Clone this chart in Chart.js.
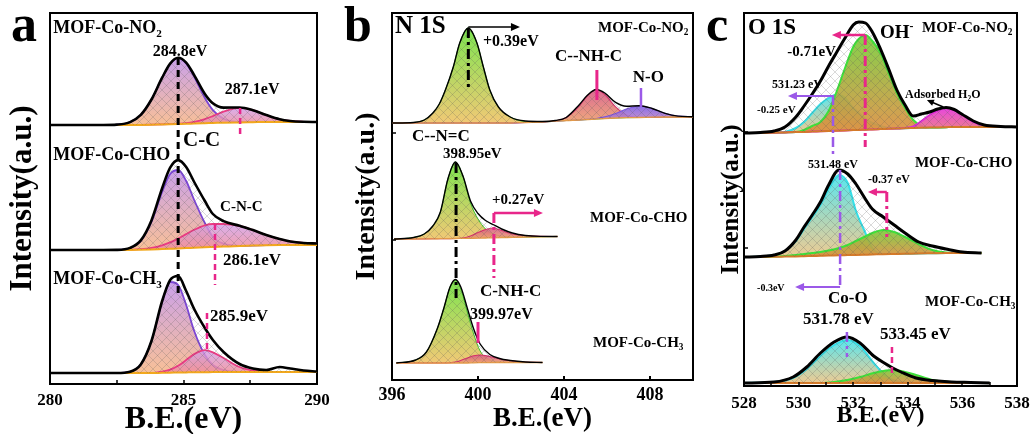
<!DOCTYPE html>
<html><head><meta charset="utf-8">
<script src="https://cdn.jsdelivr.net/npm/chart.js@4.4.1/dist/chart.umd.min.js"></script>
<style>
html,body{margin:0;padding:0;background:#fff;width:1030px;height:434px;overflow:hidden}
canvas{position:absolute;top:0}
</style></head><body>
<canvas id="ca" width="340" height="434" style="left:0px"></canvas>
<canvas id="cb" width="360" height="434" style="left:340px"></canvas>
<canvas id="cc" width="330" height="434" style="left:700px"></canvas>
<script>
// ---------------- DATA ----------------
// Panel a : C 1s
const aTicks = [280, 285, 290];
const aMinor = [282.5, 285, 287.5];
const aX = [280, 281, 282, 282.5, 283, 283.4, 283.8, 284.2, 284.5, 284.8, 285.1, 285.4, 285.8, 286.1, 286.5, 287.1, 287.6, 288.1, 288.6, 289, 289.5, 290];
const aOffset = [259, 134, 11]; // NO2, CHO, CH3 stacking offsets (a.u.)
const aNO2Bg  = [0,0,0,0,0,0.1,0.3,0.6,0.8,1,1.2,1.5,1.8,2,2.3,2.6,2.8,3,3,3,3,3];
const aNO2CC  = [0,0,0,0.4,2.9,10.1,25.5,47.3,61.3,67,61.7,48.2,27,14.9,6.3,3,2.8,3,3,3,3,3];
const aNO2CNC = [0,0,0,0,0,0.1,0.3,0.6,0.9,1.3,1.9,3.2,5.9,8.9,13.4,17.1,14.8,9.9,5.7,4,3.2,3];
const aNO2Env = [0,0,0,0.4,2.9,10.1,25.5,47.3,61.4,67.3,62.4,49.9,31.1,21.8,17.4,17.5,14.8,9.9,5.7,4,3.2,3];
const aCHOBg  = [0,0,0,0,0,0.2,0.5,0.9,1.2,1.5,1.9,2.2,2.7,3,3.4,4,4.4,4.8,5,5,5,5];
const aCHOCC  = [0,0,0,0.1,1.9,9,28,58,76,80,69,50,27,13,6.3,4.2,4.4,4.8,5,5,5,5];
const aCHOCNC = [0,0,0,0,0.2,0.8,2.1,4.7,7.6,11.4,15.9,20.2,24.7,26,26,24,20,15,11,8.5,7,6.5];
const aCHOEnv = [0,0,0,0.1,2.1,9.6,29.6,61.8,82.4,89.9,83,68,49,36,28.9,24.2,20,15,11,8.5,7,6.5];
const aCH3Bg  = [0,0,0,0,0,0,0,0.2,0.3,0.5,0.6,0.7,0.8,0.9,1,1,1,1,1,1,1,1];
const aCH3CC  = [0,0,0,0,1.3,8.5,32,71,91,88,68,42,18,8,3,1.2,1,1,1,1,1,1];
const aCH3CNC = [0,0,0,0,0,0,0,1.3,3.3,7.2,12.9,18.9,22.8,20.7,15,6,2.5,1.2,1,1,1,1];
const aCH3Env = [0,0,0,0,1.3,8.5,32,72,93,97,82,64,45,33,21,9,4.5,3,6,4.5,2.5,1.5];

// Panel b : N 1s
const bTicks = [396, 400, 404, 408];
const bMinor = [400, 404, 408];
const bOffset = [257, 141, 17];
const bNO2X   = [396, 397, 397.5, 397.9, 398.2, 398.5, 398.85, 399.15, 399.55, 399.95, 400.25, 400.55, 400.95, 401.5, 402.2, 403, 403.6, 404.1, 404.7, 405.1, 405.5, 405.9, 406.4, 406.9, 407.5, 408.1, 408.7, 409.3, 410];
const bNO2Bg  = [0,0,0,0,0,0,0,0,0,0,0,0,0,0,0.5,1,1.8,2.5,3,3.5,4,4.5,5,5.3,5.5,5.8,6,6,6];
const bNO2CNC = [0,0.5,3,10,19,34,56,80,95,80,56,33,16,6,1.5,1,1.8,2.5,3,3.5,4,4.5,5,5.3,5.5,5.8,6,6,6];
const bNO2NH  = [0,0,0,0,0,0,0,0,0,0,0,0,0,0,0.5,1,2.2,5.3,16.6,27.5,33,28.5,16.1,8.1,5.8,5.8,6,6,6];
const bNO2NO  = [0,0,0,0,0,0,0,0,0,0,0,0,0,0,0.5,1,1.8,2.5,3,3.6,4.5,6.1,9.5,14,17,14.5,9.7,6.9,6.2];
const bNO2Env = [0,0.5,3,10,19,34,56,80,95,80,56,33,16,6,2,1.5,2.5,5.5,18,28,33.5,30,20.6,16.8,17.3,14.5,9.7,6.9,6.2];
const bCHOX   = [396.1, 397, 397.5, 397.9, 398.25, 398.6, 398.95, 399.3, 399.65, 400, 400.35, 400.7, 401.1, 401.6, 402.2, 402.9, 403.7];
const bCHOBg  = [0,0,0.1,0.2,0.3,0.4,0.5,0.6,0.7,0.8,1,1.2,1.4,1.6,1.9,2.2,2.5];
const bCHOCNC = [0,1.5,5,13,27,60,77,63,36,20,10,5,3,2,1.9,2.2,2.5];
const bCHONH  = [0,0,0.1,0.2,0.3,0.4,0.5,1,3,6.5,9.5,11,8.5,5,3.5,2.6,2.5];
const bCHOEnv = [0,1.5,5,13,27,60,77,63,38,25.5,18.5,14.5,10,6,3.5,2.6,2.5];
const bCH3X   = [396.2, 397.1, 397.6, 398.1, 398.4, 398.7, 398.95, 399.2, 399.5, 399.8, 400.1, 400.55, 401, 401.5, 402.2, 403];
const bCH3Bg  = [0,0,0,0,0,0,0,0,0,0.2,0.3,0.4,0.5,0.5,0.5,0.5];
const bCH3CNC = [0,3,11,34,54,76,83,74,51,29,12,3,1,0.5,0.5,0.5];
const bCH3NH  = [0,0,0,0,0,0.3,1,2.5,5,7.2,8,6.5,4,2.2,1,0.5];
const bCH3Env = [0,3,11,34,54,76,83.5,76,55,34,19,8.5,4.5,2.5,1,0.5];

// Panel c : O 1s
const cTicks = [528, 530, 532, 534, 536, 538];
const cMinor = [529, 530, 531, 532, 533, 534, 535, 536, 537];
const cOffset = [253, 129, 3];
const cNO2X   = [528, 528.6, 529.1, 529.5, 529.9, 530.2, 530.5, 530.8, 531.1, 531.4, 531.7, 532, 532.2, 532.45, 532.7, 533, 533.3, 533.6, 533.9, 534.2, 534.5, 534.8, 535.1, 535.4, 535.7, 536, 536.4, 536.8, 537.4, 538];
const cNO2Bg  = [0,0,0.3,0.6,0.9,1.1,1.4,1.7,2,2.3,2.6,2.9,3.1,3.3,3.6,3.9,4.2,4.5,4.8,5,5.2,5.4,5.6,5.8,6,6,6,6,6,6];
const cNO2CoO = [0,0,0.3,1,5,11,20,29,35,38.5,35,25,20,14,10,7,5,4.5,4.8,5,5.2,5.4,5.6,5.8,6,6,6,6,6,6];
const cNO2OH  = [0,0,0.3,0.6,0.9,3,7,11,22,42,65,86,94,98,92,80,60,40,25,13,7,5.4,5.6,5.8,6,6,6,6,6,6];
const cNO2H2O = [0,0,0.3,0.6,0.9,1.1,1.4,1.7,2,2.3,2.6,2.9,3.1,3.3,3.6,3.9,4.2,4.5,5,6.5,12,18,22.5,25,23,18,11,7.5,6,6];
const cNO2Env = [0,0.5,2,6,16,27,39,52,67,81,95,108,111,110,101,84,64,43,28,17,19,21,24,25.5,23.5,18.5,12,8,6.5,6];
const cCHOX   = [528, 528.6, 529.1, 529.5, 529.9, 530.2, 530.5, 530.8, 531.1, 531.48, 531.8, 532.1, 532.4, 532.7, 533.1, 533.5, 533.9, 534.4, 534.9, 535.4, 536, 536.7];
const cCHOBg  = [0,0,0.2,0.4,0.6,0.8,1,1.2,1.4,1.7,1.9,2.1,2.3,2.5,2.8,3,3.2,3.5,3.7,3.9,4,4];
const cCHOCoO = [0,0.5,2,6,16,28,40,52,68,82,74,46,27,9,3,3,3.2,3.5,3.7,3.9,4,4];
const cCHOOH  = [0,0,0.5,1,2,3,4,5,6.5,9,12,16,20,24,27,25,20,13,7,4.5,4,4];
const cCHOEnv = [0,0.5,2,6,17,30,42,55,72,87,83,73,60,48,40,32,24,15,11,8,5,4];
const cCH3X   = [528, 529.1, 529.8, 530.3, 530.8, 531.3, 531.78, 532.25, 532.75, 533.2, 533.45, 533.75, 534.3, 534.9, 535.6, 536.3, 537];
const cCH3Bg  = [0,0,0,0,0,0,0,0,0,0,0,0,0,0,0,0,0];
const cCH3CoO = [0,1,5,14,27,38,43,37,20,7,3,1,0,0,0,0,0];
const cCH3OH  = [0,0,0,0,0,1,3,6,10,12.5,13,12,8,3,1,0,0];
const cCH3Env = [0,1,6,16,30,41,46,40,27,19,15,11,5,2.5,1,0.5,0];

// ---------------- HELPERS ----------------
const FONT = '"Liberation Serif", "Times New Roman", serif';
const PINK = '#e8268a', VIOLET = '#9b59e8';
const patCanvas = document.createElement('canvas');
patCanvas.width = 9; patCanvas.height = 9;
(function(){const g = patCanvas.getContext('2d'); g.strokeStyle = 'rgba(90,90,90,0.32)'; g.lineWidth = 0.7;
 g.beginPath(); g.moveTo(0,9); g.lineTo(9,0); g.moveTo(0,0); g.lineTo(9,9); g.stroke();})();

function hatch(chart){ if(!chart.$hatch) chart.$hatch = chart.ctx.createPattern(patCanvas,'repeat'); return chart.$hatch; }
function grad(chart, topV, baseV, cTop, cBot){
  if(!chart.chartArea || !chart.scales.y) return cBot;
  const y = chart.scales.y;
  const g = chart.ctx.createLinearGradient(0, y.getPixelForValue(topV), 0, y.getPixelForValue(baseV));
  g.addColorStop(0, cTop); g.addColorStop(1, cBot); return g;
}
function buildDatasets(specs){
  const ds = [];
  specs.forEach(sp => {
    const pts = arr => sp.x.map((v,i) => ({x:v, y: sp.off + arr[i]}));
    const bgIdx = ds.length + sp.comps.length;
    sp.comps.forEach(cp => {
      const topV = sp.off + Math.max(...cp.y);
      ds.push({data: pts(cp.y), borderColor: cp.line, borderWidth: cp.lw, fill: bgIdx,
        backgroundColor: ctx => grad(ctx.chart, topV, sp.off, cp.top, cp.bot)});
    });
    ds.push({data: pts(sp.bg), borderColor: sp.bgC, borderWidth: sp.bgW, fill: false});
    ds.push({data: pts(sp.env), borderColor: '#000', borderWidth: sp.envW, fill: bgIdx,
      backgroundColor: ctx => hatch(ctx.chart)});
  });
  ds.forEach((d,i) => { d.order = -i; d.pointRadius = 0; d.cubicInterpolationMode = 'monotone'; });
  return ds;
}
function drawParts(c, parts, x, y, size, align, color){
  const fn = s => 'bold ' + s + 'px ' + FONT;
  let total = 0;
  const ws = parts.map(([t,m]) => { c.font = fn(m ? size*0.62 : size); const w = c.measureText(t).width; total += w; return w; });
  let cx = align === 'center' ? x - total/2 : x;
  c.textBaseline = 'middle'; c.textAlign = 'left'; c.fillStyle = color || '#000';
  parts.forEach(([t,m],i) => { c.font = fn(m ? size*0.62 : size);
    const dy = m === 'sub' ? size*0.32 : (m === 'sup' ? -size*0.33 : 0);
    c.fillText(t, cx, y + dy); cx += ws[i]; });
}
function annotPlugin(items, letter){
  return { id: 'annot',
    afterDatasetsDraw(chart){
      const c = chart.ctx, ca = chart.chartArea, X = v => chart.scales.x.getPixelForValue(v), Y = v => chart.scales.y.getPixelForValue(v);
      c.save();
      items.forEach(it => {
        if (it.t) { drawParts(c, it.t, X(it.x), Y(it.y), it.s, it.al, it.c); return; }
        c.strokeStyle = it.c || '#000'; c.fillStyle = it.c || '#000'; c.lineWidth = it.w || 2;
        c.setLineDash(it.d || []); c.lineCap = 'butt';
        if (it.tk) { c.beginPath(); it.tk.forEach(v => { const px = Math.round(X(v)); c.moveTo(px, ca.bottom); c.lineTo(px, ca.bottom - it.len); }); c.stroke(); }
        if (it.ty) { c.beginPath(); it.ty.forEach(v => { const py = Math.round(Y(v)); c.moveTo(ca.left, py); c.lineTo(ca.left + it.len, py); }); c.stroke(); }
        if (it.l) { const px = X(it.l[0]); c.beginPath(); c.moveTo(px, Y(it.l[1])); c.lineTo(px, Y(it.l[2])); c.stroke(); }
        if (it.a) { const x1 = X(it.a[0]), y1 = Y(it.a[1]), x2 = X(it.a[2]), y2 = Y(it.a[3]);
          const ang = Math.atan2(y2-y1, x2-x1), L = it.h || 9, W = (it.h || 9)*0.45;
          c.beginPath(); c.moveTo(x1,y1); c.lineTo(x2 - Math.cos(ang)*L*0.8, y2 - Math.sin(ang)*L*0.8); c.stroke();
          c.setLineDash([]);
          c.beginPath(); c.moveTo(x2,y2);
          c.lineTo(x2 - Math.cos(ang)*L + Math.sin(ang)*W, y2 - Math.sin(ang)*L - Math.cos(ang)*W);
          c.lineTo(x2 - Math.cos(ang)*L - Math.sin(ang)*W, y2 - Math.sin(ang)*L + Math.cos(ang)*W);
          c.closePath(); c.fill(); }
        c.setLineDash([]);
      });
      c.restore();
    },
    afterDraw(chart){
      const c = chart.ctx; c.save(); c.fillStyle = '#000'; c.font = 'bold ' + letter.s + 'px ' + FONT;
      c.textBaseline = 'alphabetic'; c.textAlign = 'left'; c.fillText(letter.t, letter.x, letter.y); c.restore();
    }
  };
}
function scalesCfg(p){
  const border = {display:true, color:'#000', width:2};
  return {
    x: {type:'linear', position:'bottom', min:p.min, max:p.max,
      afterBuildTicks: ax => { ax.ticks = p.ticks.map(v => ({value:v})); },
      ticks: {color:'#000', font:{family:FONT, weight:'bold', size:p.tickSize}, padding:p.tickPad, maxRotation:0, autoSkip:false},
      grid: {display:false, drawTicks:false}, border,
      title: {display:true, text:'B.E.(eV)', color:'#000', font:{family:FONT, weight:'bold', size:p.xtSize, lineHeight:1}, padding:{top:0, bottom:p.xtPad}},
      afterFit: s => { s.height = p.xh; s.paddingLeft = 0; s.paddingRight = 0; }},
    y: {type:'linear', position:'left', min:0, max:p.ymax, ticks:{display:false}, grid:{display:false, drawTicks:false}, border,
      title: {display:true, text:'Intensity(a.u.)', color:'#000', font:{family:FONT, weight:'bold', size:p.ytSize, lineHeight:1}, padding:{top:p.ytPad, bottom:0}},
      afterFit: s => { s.width = p.yw; s.paddingTop = 0; s.paddingBottom = 0; }},
    xT: {axis:'x', type:'linear', position:'top', min:p.min, max:p.max, ticks:{display:false}, grid:{display:false, drawTicks:false}, border,
      afterFit: s => { s.height = 0; s.paddingLeft = 0; s.paddingRight = 0; }},
    yR: {axis:'y', type:'linear', position:'right', min:0, max:p.ymax, ticks:{display:false}, grid:{display:false, drawTicks:false}, border,
      afterFit: s => { s.width = 0; s.paddingTop = 0; s.paddingBottom = 0; }}
  };
}
function makeChart(id, datasets, scales, padding, plugin){
  return new Chart(document.getElementById(id), {
    type:'line', data:{datasets},
    options:{responsive:false, animation:false, devicePixelRatio:1, events:[],
      layout:{padding}, plugins:{legend:{display:false}, tooltip:{enabled:false}}, scales},
    plugins:[plugin]
  });
}

// ---------------- PANEL A ----------------
const aStyle = {
  cc: {line:'#7b45d6', lw:1.8, top:'rgba(196,150,232,0.9)', bot:'rgba(247,185,140,0.9)'},
  cn: {line:'#ea3b83', lw:1.8, top:'rgba(208,155,232,0.8)', bot:'rgba(242,140,150,0.85)'}
};
const aSpecs = [
  {x:aX, off:aOffset[0], bg:aNO2Bg, env:aNO2Env, comps:[{y:aNO2CC,...aStyle.cc},{y:aNO2CNC,...aStyle.cn}]},
  {x:aX, off:aOffset[1], bg:aCHOBg, env:aCHOEnv, comps:[{y:aCHOCC,...aStyle.cc},{y:aCHOCNC,...aStyle.cn}]},
  {x:aX, off:aOffset[2], bg:aCH3Bg, env:aCH3Env, comps:[{y:aCH3CC,...aStyle.cc},{y:aCH3CNC,...aStyle.cn}]}
].map(s => Object.assign(s, {bgC:'#f2a81d', bgW:2, envW:2.6}));
const sub = (a,b) => [[a],[b,'sub']];
const aAnnot = [
  {tk:aMinor, len:4, w:1.5},
  {t:sub('MOF-Co-NO','2'), x:280.12, y:356, s:18},
  {t:[['284.8eV']], x:284.87, y:332, s:16, al:'center'},
  {t:[['287.1eV']], x:287.57, y:294, s:16, al:'center'},
  {t:[['C-C']], x:284.98, y:243, s:21},
  {t:[['MOF-Co-CHO']], x:280.12, y:229, s:18},
  {t:[['C-N-C']], x:286.37, y:177, s:15},
  {t:[['286.1eV']], x:286.48, y:123, s:17},
  {t:sub('MOF-Co-CH','3'), x:280.12, y:105, s:18},
  {t:[['285.9eV']], x:285.99, y:67, s:17},
  {l:[284.8, 326, 87], c:'#000', w:3, d:[7,5]},
  {l:[287.12, 276, 246], c:PINK, w:2.5, d:[6,4]},
  {l:[286.18, 160, 99], c:PINK, w:2.5, d:[6,4]},
  {l:[285.88, 71, 34], c:PINK, w:2.5, d:[6,4]}
];
makeChart('ca', buildDatasets(aSpecs),
  scalesCfg({min:280, max:290, ticks:aTicks, tickSize:17, tickPad:6, xtSize:32, xtPad:-2, xh:50, ymax:371, ytSize:31, ytPad:7, yw:50}),
  {top:13, right:23, left:0, bottom:0}, annotPlugin(aAnnot, {t:'a', s:52, x:11, y:41}));

// ---------------- PANEL B ----------------
const bStyle = {
  cnc: {line:'#3fbf2a', lw:1, top:'rgba(118,228,70,0.95)', bot:'rgba(240,198,110,0.95)'},
  nh:  {line:'#d4306a', lw:1.1, top:'rgba(215,90,135,0.9)', bot:'rgba(238,160,110,0.9)'},
  no:  {line:'#7b55e0', lw:1.1, top:'rgba(125,95,232,0.9)', bot:'rgba(205,140,190,0.9)'}
};
const bSpecs = [
  {x:bNO2X, off:bOffset[0], bg:bNO2Bg, env:bNO2Env, comps:[{y:bNO2CNC,...bStyle.cnc},{y:bNO2NH,...bStyle.nh},{y:bNO2NO,...bStyle.no}]},
  {x:bCHOX, off:bOffset[1], bg:bCHOBg, env:bCHOEnv, comps:[{y:bCHOCNC,...bStyle.cnc},{y:bCHONH,...bStyle.nh}]},
  {x:bCH3X, off:bOffset[2], bg:bCH3Bg, env:bCH3Env, comps:[{y:bCH3CNC,...bStyle.cnc},{y:bCH3NH,...bStyle.nh}]}
].map(s => Object.assign(s, {bgC:'#e39a4a', bgW:1.3, envW:1.4}));
const DD = [10,4,3,4];
const bAnnot = [
  {tk:bMinor, len:4, w:2},
  {ty:[247, 140], len:4, w:1.5},
  {t:[['N 1S']], x:396.14, y:353, s:25},
  {t:[['+0.39eV']], x:400.23, y:338, s:16},
  {t:sub('MOF-Co-NO','2'), x:405.58, y:352, s:15},
  {t:[['C--NH-C']], x:403.58, y:323, s:17},
  {t:[['N-O']], x:407.2, y:302, s:17},
  {t:[['C--N=C']], x:396.93, y:243, s:17},
  {t:[['398.95eV']], x:398.37, y:226, s:15},
  {t:[['+0.27eV']], x:400.65, y:180, s:15},
  {t:[['MOF-Co-CHO']], x:405.21, y:162, s:15},
  {t:[['C-NH-C']], x:400.09, y:88, s:17},
  {t:[['399.97eV']], x:399.63, y:65, s:16},
  {t:sub('MOF-Co-CH','3'), x:405.35, y:37, s:15},
  {a:[399.55, 353, 401.95, 353], c:'#000', w:1.5},
  {l:[399.55, 352, 290], c:'#000', w:3, d:DD},
  {l:[405.53, 310, 280], c:PINK, w:3},
  {l:[407.58, 292, 273], c:VIOLET, w:2.5},
  {l:[398.98, 217, 82], c:'#000', w:3, d:DD},
  {l:[400.74, 167, 102], c:PINK, w:3, d:DD},
  {a:[400.74, 167, 403.02, 167], c:PINK, w:2.5},
  {l:[400.0, 58, 37], c:PINK, w:3}
];
makeChart('cb', buildDatasets(bSpecs),
  scalesCfg({min:396, max:410, ticks:bTicks, tickSize:18, tickPad:5, xtSize:27, xtPad:1, xh:54, ymax:367, ytSize:28, ytPad:13, yw:52}),
  {top:13, right:7, left:0, bottom:0}, annotPlugin(bAnnot, {t:'b', s:50, x:4, y:41}));

// ---------------- PANEL C ----------------
const cStyle = {
  coo: {line:'#35dfe8', lw:2, top:'rgba(70,228,238,0.9)', bot:'rgba(232,190,120,0.8)'},
  oh:  {line:'#3ee03a', lw:2, top:'rgba(122,205,60,0.92)', bot:'rgba(222,140,62,0.9)'},
  h2o: {line:'#e02ad8', lw:2, top:'rgba(230,60,220,0.95)', bot:'rgba(236,120,120,0.9)'}
};
const cSpecs = [
  {x:cNO2X, off:cOffset[0], bg:cNO2Bg, env:cNO2Env, comps:[{y:cNO2CoO,...cStyle.coo},{y:cNO2OH,...cStyle.oh},{y:cNO2H2O,...cStyle.h2o}]},
  {x:cCHOX, off:cOffset[1], bg:cCHOBg, env:cCHOEnv, comps:[{y:cCHOCoO,...cStyle.coo},{y:cCHOOH,...cStyle.oh}]},
  {x:cCH3X, off:cOffset[2], bg:cCH3Bg, env:cCH3Env, comps:[{y:cCH3CoO,...cStyle.coo},{y:cCH3OH,...cStyle.oh}]}
].map(s => Object.assign(s, {bgC:'#d47a2a', bgW:2, envW:3}));
const cAnnot = [
  {tk:cMinor, len:4, w:1.5},
  {ty:[254, 138], len:4, w:1.5},
  {t:[['O 1S']], x:528.15, y:358, s:23},
  {t:[['OH'],['-','sup']], x:532.98, y:353, s:19},
  {t:sub('MOF-Co-NO','2'), x:534.52, y:358, s:15},
  {t:[['-0.71eV']], x:529.58, y:334, s:15},
  {t:[['531.23 eV']], x:529.03, y:301, s:12},
  {t:[['-0.25 eV']], x:528.48, y:276, s:11},
  {t:[['Adsorbed H'],['2','sub'],['O']], x:533.9, y:291, s:12},
  {t:[['531.48 eV']], x:530.34, y:221, s:12},
  {t:[['MOF-Co-CHO']], x:534.26, y:223, s:15},
  {t:[['-0.37 eV']], x:532.54, y:206, s:12},
  {t:[['-0.3eV']], x:528.48, y:98, s:10},
  {t:[['Co-O']], x:531.08, y:87, s:17},
  {t:[['531.78 eV']], x:530.16, y:66, s:17},
  {t:[['533.45 eV']], x:532.98, y:51, s:17},
  {t:sub('MOF-Co-CH','3'), x:534.63, y:84, s:15},
  {a:[532.44, 351, 531.22, 351], c:PINK, w:2.5},
  {l:[532.44, 351, 239], c:PINK, w:3, d:DD},
  {a:[531.26, 290, 529.61, 290], c:VIOLET, w:2},
  {l:[531.26, 291, 229], c:VIOLET, w:2.5, d:DD},
  {a:[535.3, 279, 534.7, 286], c:'#000', w:1.5, h:7},
  {a:[533.23, 194, 532.54, 194], c:PINK, w:2.5},
  {l:[533.23, 194, 149], c:PINK, w:3, d:DD},
  {l:[531.52, 216, 99], c:VIOLET, w:2.5, d:DD},
  {a:[531.52, 99, 529.87, 99], c:VIOLET, w:2},
  {l:[531.77, 54, 29], c:VIOLET, w:2.5, d:DD},
  {l:[533.42, 39, 13], c:PINK, w:2.5, d:[6,4]}
];
makeChart('cc', buildDatasets(cSpecs),
  scalesCfg({min:528, max:538, ticks:cTicks, tickSize:17, tickPad:7, xtSize:24, xtPad:6, xh:48, ymax:373, ytSize:25, ytPad:19, yw:44}),
  {top:13, right:13, left:0, bottom:0}, annotPlugin(cAnnot, {t:'c', s:50, x:6, y:41}));
</script>
</body></html>
